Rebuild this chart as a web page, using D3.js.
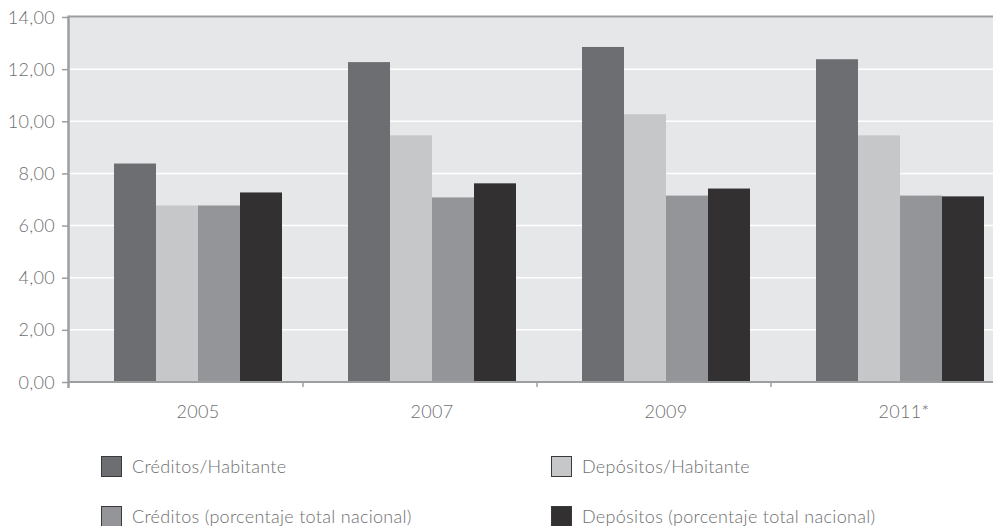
<!DOCTYPE html>
<html>
<head>
<meta charset="utf-8">
<script src="https://cdn.jsdelivr.net/npm/d3@7"></script>
<style>
  body { margin: 0; background: #fff; }
  svg { display: block; font-family: Lato, "Open Sans", sans-serif; font-weight: 300; letter-spacing: 0.3px; }
</style>
</head>
<body>
<svg id="chart" width="993" height="526"></svg>
<script>
// data
const years = ['2005', '2007', '2009', '2011*'];
const seriesNames = [
  'Créditos/Habitante',
  'Depósitos/Habitante',
  'Créditos (porcentaje total nacional)',
  'Depósitos (porcentaje total nacional)'
];
const creditosHab = [8.38, 12.27, 12.85, 12.38];
const depositosHab = [6.77, 9.46, 10.27, 9.46];
const creditosPct = [6.77, 7.08, 7.15, 7.15];
const depositosPct = [7.27, 7.62, 7.42, 7.12];
const yTicks = [0, 2, 4, 6, 8, 10, 12, 14];

const seriesValues = [creditosHab, depositosHab, creditosPct, depositosPct];
const colors = ['#6d6e71', '#c6c7c9', '#939598', '#323031'];

const svg = d3.select('#chart');
const plotLeft = 69, plotTop = 17, plotBottom = 382, plotRight = 1005;

const x = d3.scaleBand().domain(years).range([plotLeft, plotRight]);
const inner = d3.scaleBand().domain(d3.range(4)).range([45, 213]);
const y = d3.scaleLinear().domain([0, 14]).range([plotBottom, plotTop]);

// plot background
svg.append('rect')
  .attr('x', plotLeft).attr('y', plotTop)
  .attr('width', plotRight - plotLeft).attr('height', plotBottom - plotTop)
  .attr('fill', '#e6e7e8');

// white grid lines
svg.append('g')
  .selectAll('line')
  .data(yTicks.filter(d => d > 0 && d < 14))
  .join('line')
  .attr('x1', plotLeft).attr('x2', plotRight)
  .attr('y1', d => y(d)).attr('y2', d => y(d))
  .attr('stroke', '#fff').attr('stroke-width', 1.5);

// bars
const groups = svg.append('g')
  .selectAll('g')
  .data(years)
  .join('g')
  .attr('transform', d => `translate(${x(d)},0)`);

groups.selectAll('rect')
  .data((d, i) => seriesValues.map((vals, s) => ({ s, v: vals[i] })))
  .join('rect')
  .attr('x', d => inner(d.s))
  .attr('width', inner.bandwidth())
  .attr('y', d => y(d.v))
  .attr('height', d => y(0) - y(d.v))
  .attr('fill', d => colors[d.s]);

// top border
svg.append('line')
  .attr('x1', plotLeft).attr('x2', plotRight)
  .attr('y1', plotTop - 0.5).attr('y2', plotTop - 0.5)
  .attr('stroke', '#9d9ea0').attr('stroke-width', 2);

// y axis
const yAxis = svg.append('g')
  .attr('transform', `translate(${plotLeft - 1},0)`)
  .call(d3.axisLeft(y).tickValues(yTicks).tickSize(6).tickSizeOuter(0)
    .tickFormat(d => d3.format('.2f')(d).replace('.', ',')));
yAxis.select('.domain').attr('stroke', '#9d9ea0').attr('stroke-width', 2.5)
  .attr('d', `M0.5,${plotTop - 1.5}V${plotBottom + 6}`);
yAxis.selectAll('.tick line').attr('stroke', '#9d9ea0').attr('stroke-width', 1.5);
yAxis.selectAll('.tick text')
  .attr('x', -13).attr('dy', '0.34em')
  .attr('fill', '#6d6e71').style('font-size', '18px')
  .style('font-family', 'Lato, "Open Sans", sans-serif').style('font-weight', 300);

// x axis line with ticks at category boundaries
svg.append('line')
  .attr('x1', plotLeft).attr('x2', plotRight)
  .attr('y1', plotBottom).attr('y2', plotBottom)
  .attr('stroke', '#9d9ea0').attr('stroke-width', 2);
svg.append('g')
  .selectAll('line')
  .data(years.slice(1))
  .join('line')
  .attr('x1', d => x(d)).attr('x2', d => x(d))
  .attr('y1', plotBottom).attr('y2', plotBottom + 5)
  .attr('stroke', '#9d9ea0').attr('stroke-width', 1.5);

// category labels, centred under each bar group
svg.append('g')
  .selectAll('text')
  .data(years)
  .join('text')
  .attr('x', d => x(d) + (inner.range()[0] + inner.range()[1]) / 2 + (d.endsWith('*') ? 4 : 0))
  .attr('y', 418)
  .attr('text-anchor', 'middle')
  .attr('fill', '#6d6e71')
  .style('font-size', '18px')
  .text(d => d);

// legend
const legendPos = [[101, 456], [551, 456], [101, 506], [551, 506]];
const legend = svg.append('g')
  .selectAll('g')
  .data(seriesNames)
  .join('g')
  .attr('transform', (d, i) => `translate(${legendPos[i][0]},${legendPos[i][1]})`);
legend.append('rect')
  .attr('x', 0.5).attr('y', 0.5)
  .attr('width', 20).attr('height', 20)
  .attr('fill', (d, i) => colors[i])
  .attr('stroke', '#3a3a3c').attr('stroke-width', 1);
legend.append('text')
  .attr('x', 31).attr('y', 17)
  .attr('fill', '#6d6e71')
  .style('font-size', '18px')
  .text(d => d);
</script>
</body>
</html>
